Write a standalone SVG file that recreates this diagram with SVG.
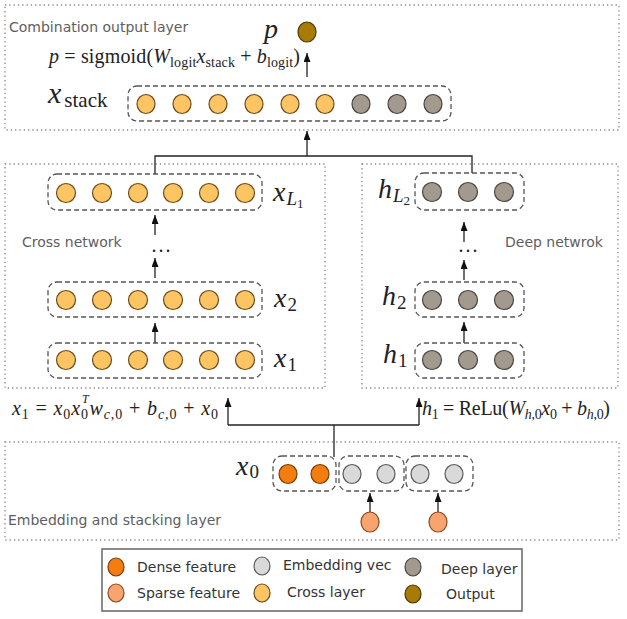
<svg xmlns="http://www.w3.org/2000/svg" width="627" height="619" viewBox="0 0 627 619">
<defs>
<marker id="ah" markerUnits="userSpaceOnUse" markerWidth="9" markerHeight="7" refX="9" refY="3.5" orient="auto">
<path d="M0,0 L9,3.5 L0,7 z" fill="#111"/>
</marker>
<style>
.layer{fill:none;stroke:#888;stroke-width:1.3;stroke-dasharray:1.3 3}
.grp{fill:none;stroke:#555;stroke-width:1.3;stroke-dasharray:5 3}
.cy{fill:#FDC463;stroke:#6b4c1a;stroke-width:1.2}
.dg{fill:#A39A8F;stroke:#4a443d;stroke-width:1.2}
.em{fill:#D9D9D9;stroke:#5a5a5a;stroke-width:1.2}
.dn{fill:#F57C0E;stroke:#7a3d05;stroke-width:1.2}
.sp{fill:#F8A46E;stroke:#8a4a20;stroke-width:1.2}
.out{fill:#A77B06;stroke:#4a3500;stroke-width:1.2}
.lbl{font-family:"DejaVu Sans",sans-serif;font-size:14px;fill:#5e5e5e}
.leg{font-family:"DejaVu Sans",sans-serif;font-size:14px;fill:#333}
.m{font-family:"Liberation Serif","DejaVu Serif",serif;font-size:20px;fill:#222}
.mb{font-family:"Liberation Serif","DejaVu Serif",serif;font-size:28px;fill:#222}
.i{font-style:italic}
.s{font-size:14px}
.s2{font-size:19px}
.s3{font-size:13px}
.ln{fill:none;stroke:#222;stroke-width:1.3}
</style>
</defs>

<g id="layers">
<rect class="layer" x="5" y="5" width="614" height="125"/>
<rect class="layer" x="5" y="164" width="320" height="224"/>
<rect class="layer" x="362" y="164" width="256" height="224"/>
<rect class="layer" x="5" y="442" width="614" height="98"/>
<text class="lbl" x="9" y="32">Combination output layer</text>
<text class="lbl" x="22" y="247">Cross network</text>
<text class="lbl" x="505" y="247">Deep netwrok</text>
<text class="lbl" x="8" y="525">Embedding and stacking layer</text>
</g>

<g id="connectors">
<line class="ln" x1="307" y1="77" x2="307" y2="53" marker-end="url(#ah)"/>
<polyline class="ln" points="155,174 155,156 472,156 472,173"/>
<line class="ln" x1="307" y1="156" x2="307" y2="131" marker-end="url(#ah)"/>
<line class="ln" x1="155" y1="235" x2="155" y2="215" marker-end="url(#ah)"/>
<line class="ln" x1="155" y1="278" x2="155" y2="258" marker-end="url(#ah)"/>
<line class="ln" x1="155" y1="343" x2="155" y2="323" marker-end="url(#ah)"/>
<line class="ln" x1="464" y1="242" x2="464" y2="222" marker-end="url(#ah)"/>
<line class="ln" x1="464" y1="280" x2="464" y2="260" marker-end="url(#ah)"/>
<line class="ln" x1="464" y1="343" x2="464" y2="322" marker-end="url(#ah)"/>
<polyline class="ln" points="334,457 334,425"/>
<polyline class="ln" points="228,425 419,425"/>
<line class="ln" x1="228" y1="425" x2="228" y2="398" marker-end="url(#ah)"/>
<line class="ln" x1="419" y1="425" x2="419" y2="398" marker-end="url(#ah)"/>
<line class="ln" x1="370" y1="512" x2="370" y2="493" marker-end="url(#ah)"/>
<line class="ln" x1="438" y1="512" x2="438" y2="493" marker-end="url(#ah)"/>
<text class="m" x="162" y="252" text-anchor="middle" letter-spacing="2">...</text>
<text class="m" x="469" y="252" text-anchor="middle" letter-spacing="2">...</text>
</g>

<g id="output">
<text class="mb i" x="264" y="38" font-size="30">p</text>
<ellipse class="out" cx="307" cy="32" rx="9" ry="10"/>
<text class="m" x="49" y="63" textLength="251" lengthAdjust="spacing"><tspan class="i">p</tspan> = sigmoid(<tspan class="i">W</tspan><tspan class="s" dy="4">logit</tspan><tspan class="i" dy="-4">x</tspan><tspan class="s" dy="4">stack</tspan><tspan dy="-4"> + </tspan><tspan class="i">b</tspan><tspan class="s" dy="4">logit</tspan><tspan dy="-4">)</tspan></text>
</g>

<g id="x_stack">
<text class="mb" x="48" y="103"><tspan class="i" font-size="30">x</tspan><tspan font-size="21" dx="3" dy="4">stack</tspan></text>
<rect class="grp" x="128" y="86" width="323" height="35" rx="9"/>
<ellipse class="cy" cx="146" cy="104" rx="9" ry="9.5"/>
<ellipse class="cy" cx="182" cy="104" rx="9" ry="9.5"/>
<ellipse class="cy" cx="218" cy="104" rx="9" ry="9.5"/>
<ellipse class="cy" cx="254" cy="104" rx="9" ry="9.5"/>
<ellipse class="cy" cx="290" cy="104" rx="9" ry="9.5"/>
<ellipse class="cy" cx="325" cy="104" rx="9" ry="9.5"/>
<ellipse class="dg" cx="361" cy="104" rx="9" ry="9.5"/>
<ellipse class="dg" cx="397" cy="104" rx="9" ry="9.5"/>
<ellipse class="dg" cx="433" cy="104" rx="9" ry="9.5"/>
</g>

<g id="x_L1">
<rect class="grp" x="48" y="174" width="214" height="36" rx="9"/>
<circle class="cy" cx="66" cy="193" r="9.5"/>
<circle class="cy" cx="102" cy="193" r="9.5"/>
<circle class="cy" cx="138" cy="193" r="9.5"/>
<circle class="cy" cx="173" cy="193" r="9.5"/>
<circle class="cy" cx="209" cy="193" r="9.5"/>
<circle class="cy" cx="245" cy="193" r="9.5"/>
<text class="mb" x="273" y="201"><tspan class="i">x</tspan><tspan class="i s2" dx="1" dy="4">L</tspan><tspan class="s3" dy="3">1</tspan></text>
</g>

<g id="x_2">
<rect class="grp" x="48" y="282" width="214" height="35" rx="9"/>
<circle class="cy" cx="66" cy="300" r="9.5"/>
<circle class="cy" cx="102" cy="300" r="9.5"/>
<circle class="cy" cx="138" cy="300" r="9.5"/>
<circle class="cy" cx="173" cy="300" r="9.5"/>
<circle class="cy" cx="209" cy="300" r="9.5"/>
<circle class="cy" cx="245" cy="300" r="9.5"/>
<text class="mb" x="274" y="307"><tspan class="i">x</tspan><tspan class="s2" dx="1" dy="4">2</tspan></text>
</g>

<g id="x_1">
<rect class="grp" x="48" y="343" width="214" height="35" rx="9"/>
<circle class="cy" cx="66" cy="360" r="9.5"/>
<circle class="cy" cx="102" cy="360" r="9.5"/>
<circle class="cy" cx="138" cy="360" r="9.5"/>
<circle class="cy" cx="173" cy="360" r="9.5"/>
<circle class="cy" cx="209" cy="360" r="9.5"/>
<circle class="cy" cx="245" cy="360" r="9.5"/>
<text class="mb" x="274" y="367"><tspan class="i">x</tspan><tspan class="s2" dx="1" dy="4">1</tspan></text>
</g>

<g id="h_L2">
<rect class="grp" x="415" y="173" width="109" height="37" rx="9"/>
<circle class="dg" cx="432" cy="192" r="9.5"/>
<circle class="dg" cx="468" cy="192" r="9.5"/>
<circle class="dg" cx="504" cy="192" r="9.5"/>
<text class="mb" x="378" y="198"><tspan class="i">h</tspan><tspan class="i s2" dx="1" dy="4">L</tspan><tspan class="s3" dy="3">2</tspan></text>
</g>

<g id="h_2">
<rect class="grp" x="415" y="282" width="109" height="35" rx="9"/>
<circle class="dg" cx="432" cy="300" r="9.5"/>
<circle class="dg" cx="468" cy="300" r="9.5"/>
<circle class="dg" cx="504" cy="300" r="9.5"/>
<text class="mb" x="382" y="305"><tspan class="i">h</tspan><tspan class="s2" dx="1" dy="4">2</tspan></text>
</g>

<g id="h_1">
<rect class="grp" x="415" y="343" width="109" height="35" rx="9"/>
<circle class="dg" cx="432" cy="360" r="9.5"/>
<circle class="dg" cx="468" cy="360" r="9.5"/>
<circle class="dg" cx="504" cy="360" r="9.5"/>
<text class="mb" x="383" y="363"><tspan class="i">h</tspan><tspan class="s2" dx="1" dy="4">1</tspan></text>
</g>

<g id="formula_cross">
<text class="m" x="12" y="415" textLength="206" lengthAdjust="spacing"><tspan class="i">x</tspan><tspan class="s" dy="4">1</tspan><tspan dy="-4"> = </tspan><tspan class="i">x</tspan><tspan class="s" dy="4">0</tspan><tspan class="i" dy="-4">x</tspan><tspan class="s" dy="4">0</tspan><tspan class="i" font-size="12" dx="-7" dy="-16">T</tspan><tspan class="i" dy="12">w</tspan><tspan class="s" dy="4"><tspan class="i">c</tspan>,0</tspan><tspan dy="-4"> + </tspan><tspan class="i">b</tspan><tspan class="s" dy="4"><tspan class="i">c</tspan>,0</tspan><tspan dy="-4"> + </tspan><tspan class="i">x</tspan><tspan class="s" dy="4">0</tspan></text>
</g>

<g id="formula_deep">
<text class="m" x="422" y="415" textLength="188" lengthAdjust="spacing"><tspan class="i">h</tspan><tspan class="s" dy="4">1</tspan><tspan dy="-4"> = ReLu(</tspan><tspan class="i">W</tspan><tspan class="s" dy="4"><tspan class="i">h</tspan>,0</tspan><tspan class="i" dy="-4">x</tspan><tspan class="s" dy="4">0</tspan><tspan dy="-4"> + </tspan><tspan class="i">b</tspan><tspan class="s" dy="4"><tspan class="i">h</tspan>,0</tspan><tspan dy="-4">)</tspan></text>
</g>

<g id="x_0">
<text class="mb" x="236" y="475" font-size="27"><tspan class="i">x</tspan><tspan class="s2" dx="1" dy="3">0</tspan></text>
<rect class="grp" x="273" y="456" width="63" height="35" rx="9"/>
<rect class="grp" x="339" y="456" width="65" height="35" rx="9"/>
<rect class="grp" x="406" y="456" width="67" height="35" rx="9"/>
<ellipse class="dn" cx="288" cy="474" rx="9" ry="9.5"/>
<ellipse class="dn" cx="320" cy="474" rx="9" ry="9.5"/>
<ellipse class="em" cx="352" cy="474" rx="9" ry="9.5"/>
<ellipse class="em" cx="386" cy="474" rx="9" ry="9.5"/>
<ellipse class="em" cx="420" cy="474" rx="9" ry="9.5"/>
<ellipse class="em" cx="454" cy="474" rx="9" ry="9.5"/>
</g>

<g id="sparse_1"><ellipse class="sp" cx="370" cy="522" rx="9" ry="10"/></g>
<g id="sparse_2"><ellipse class="sp" cx="438" cy="522" rx="9" ry="10"/></g>

<g id="legend">
<rect x="102" y="549" width="420" height="62" fill="#fff" stroke="#666" stroke-width="1.5"/>
<ellipse class="dn" cx="116" cy="567" rx="8" ry="9"/>
<text class="leg" x="137" y="572">Dense feature</text>
<ellipse class="sp" cx="116" cy="593" rx="8" ry="9"/>
<text class="leg" x="137" y="598">Sparse feature</text>
<ellipse class="em" cx="262" cy="566" rx="8" ry="9"/>
<text class="leg" x="283" y="570">Embedding vec</text>
<ellipse class="cy" cx="262" cy="593" rx="8" ry="9"/>
<text class="leg" x="287" y="597">Cross layer</text>
<ellipse class="dg" cx="413" cy="567" rx="8" ry="9"/>
<text class="leg" x="441" y="574">Deep layer</text>
<ellipse class="out" cx="413" cy="594" rx="8" ry="9"/>
<text class="leg" x="446" y="599">Output</text>
</g>
</svg>
